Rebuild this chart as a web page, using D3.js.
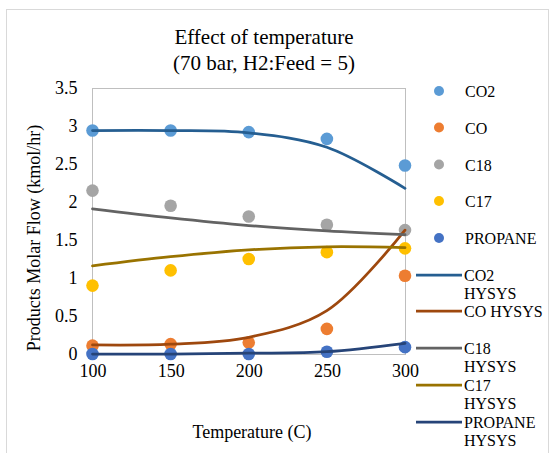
<!DOCTYPE html>
<html>
<head>
<meta charset="utf-8">
<script src="https://cdn.jsdelivr.net/npm/d3@7"></script>
<style>
  html, body { margin: 0; padding: 0; background: #fff; }
  svg { display: block; }
</style>
</head>
<body>
<svg id="chart" width="550" height="453"></svg>
<script>
// ---- data ----
const temps = [100, 150, 200, 250, 300];
const co2 = [2.94, 2.94, 2.92, 2.83, 2.48];
const co = [0.11, 0.13, 0.15, 0.33, 1.03];
const c18 = [2.15, 1.95, 1.81, 1.70, 1.63];
const c17 = [0.90, 1.10, 1.25, 1.34, 1.39];
const propane = [0.00, 0.00, 0.00, 0.03, 0.09];
const co2Hysys = [2.94, 2.94, 2.91, 2.72, 2.18];
const coHysys = [0.12, 0.13, 0.22, 0.57, 1.63];
const c18Hysys = [1.91, 1.79, 1.69, 1.62, 1.57];
const c17Hysys = [1.16, 1.28, 1.37, 1.41, 1.40];
const propaneHysys = [0.00, 0.00, 0.01, 0.03, 0.14];
const xTicks = [100, 150, 200, 250, 300];
const yTicks = [0, 0.5, 1, 1.5, 2, 2.5, 3, 3.5];

const pointSeries = [
  { name: "CO2", values: co2, color: "#5B9BD5" },
  { name: "CO", values: co, color: "#ED7D31" },
  { name: "C18", values: c18, color: "#A5A5A5" },
  { name: "C17", values: c17, color: "#FFC000" },
  { name: "PROPANE", values: propane, color: "#4472C4" }
];
const lineSeries = [
  { name: ["CO2", "HYSYS"], values: co2Hysys, color: "#255E91" },
  { name: ["CO HYSYS"], values: coHysys, color: "#9E480E" },
  { name: ["C18", "HYSYS"], values: c18Hysys, color: "#636363" },
  { name: ["C17", "HYSYS"], values: c17Hysys, color: "#997300" },
  { name: ["PROPANE", "HYSYS"], values: propaneHysys, color: "#264478" }
];

const FONT = "'Liberation Serif', 'Times New Roman', Times, 'DejaVu Serif', serif";

// ---- layout ----
const svg = d3.select("#chart").style("font-family", FONT);
const plot = { left: 92.5, right: 405.5, top: 88, bottom: 354 };

const x = d3.scaleLinear().domain([100, 300]).range([plot.left, plot.right - 0.5]);
const y = d3.scaleLinear().domain([0, 3.5]).range([plot.bottom, plot.top]);

// outer chart border
svg.append("rect")
  .attr("x", 6.5).attr("y", 9.5).attr("width", 542).attr("height", 460)
  .attr("fill", "none").attr("stroke", "#D9D9D9").attr("stroke-width", 1);

// plot area frame
svg.append("rect")
  .attr("x", plot.left).attr("y", plot.top + 0.5)
  .attr("width", plot.right - plot.left).attr("height", plot.bottom - plot.top)
  .attr("fill", "none").attr("stroke", "#BFBFBF").attr("stroke-width", 1);

function txt(sel, size) {
  return sel.style("font-family", FONT).style("font-size", size + "px").attr("fill", "#000");
}

// title
const title = txt(svg.append("text").attr("text-anchor", "middle"), 21);
title.append("tspan").attr("x", 264).attr("y", 44).text("Effect of temperature");
title.append("tspan").attr("x", 264).attr("y", 70).text("(70 bar, H2:Feed = 5)");

// axes (labels only, no tick marks)
const yAxis = d3.axisLeft(y).tickValues(yTicks).tickSize(0).tickPadding(15)
  .tickFormat(d => String(d));
svg.append("g").attr("transform", `translate(${plot.left},0)`).call(yAxis)
  .attr("font-family", null).attr("font-size", null)
  .call(g => g.select(".domain").remove())
  .call(g => txt(g.selectAll("text"), 18));

const xAxis = d3.axisBottom(x).tickValues(xTicks).tickSize(0).tickPadding(10)
  .tickFormat(d3.format("d"));
svg.append("g").attr("transform", `translate(0,${plot.bottom})`).call(xAxis)
  .attr("font-family", null).attr("font-size", null)
  .call(g => g.select(".domain").remove())
  .call(g => txt(g.selectAll("text"), 18));

// axis titles
txt(svg.append("text"), 18)
  .attr("x", 252).attr("y", 438)
  .attr("text-anchor", "middle")
  .text("Temperature (C)");
txt(svg.append("text"), 18)
  .attr("transform", "translate(40,238) rotate(-90)")
  .attr("text-anchor", "middle")
  .text("Products Molar Flow (kmol/hr)");

// points
pointSeries.forEach(s => {
  svg.append("g").selectAll("circle")
    .data(temps.map((t, i) => [t, s.values[i]]))
    .join("circle")
    .attr("cx", d => x(d[0])).attr("cy", d => y(d[1]))
    .attr("r", 6.3).attr("fill", s.color);
});

// lines
const line = d3.line().x(d => x(d[0])).y(d => y(d[1])).curve(d3.curveCatmullRom.alpha(0.5));
lineSeries.forEach(s => {
  svg.append("path")
    .datum(temps.map((t, i) => [t, s.values[i]]))
    .attr("d", line)
    .attr("fill", "none").attr("stroke", s.color).attr("stroke-width", 2.75)
    .attr("stroke-linecap", "round");
});

// legend - point entries
const legendPointY = [91, 127.5, 164.5, 201, 238];
pointSeries.forEach((s, i) => {
  svg.append("circle").attr("cx", 439).attr("cy", legendPointY[i]).attr("r", 5).attr("fill", s.color);
  txt(svg.append("text"), 16).attr("x", 465).attr("y", legendPointY[i] + 6).text(s.name);
});

// legend - line entries
const legendLineY = [275, 311, 348, 385, 422];
lineSeries.forEach((s, i) => {
  const ly = legendLineY[i];
  svg.append("line").attr("x1", 416).attr("x2", 462).attr("y1", ly).attr("y2", ly)
    .attr("stroke", s.color).attr("stroke-width", 2.75);
  s.name.forEach((n, j) => {
    txt(svg.append("text"), 16).attr("x", 464).attr("y", ly + 5.5 + j * 18).text(n);
  });
});
</script>
</body>
</html>
